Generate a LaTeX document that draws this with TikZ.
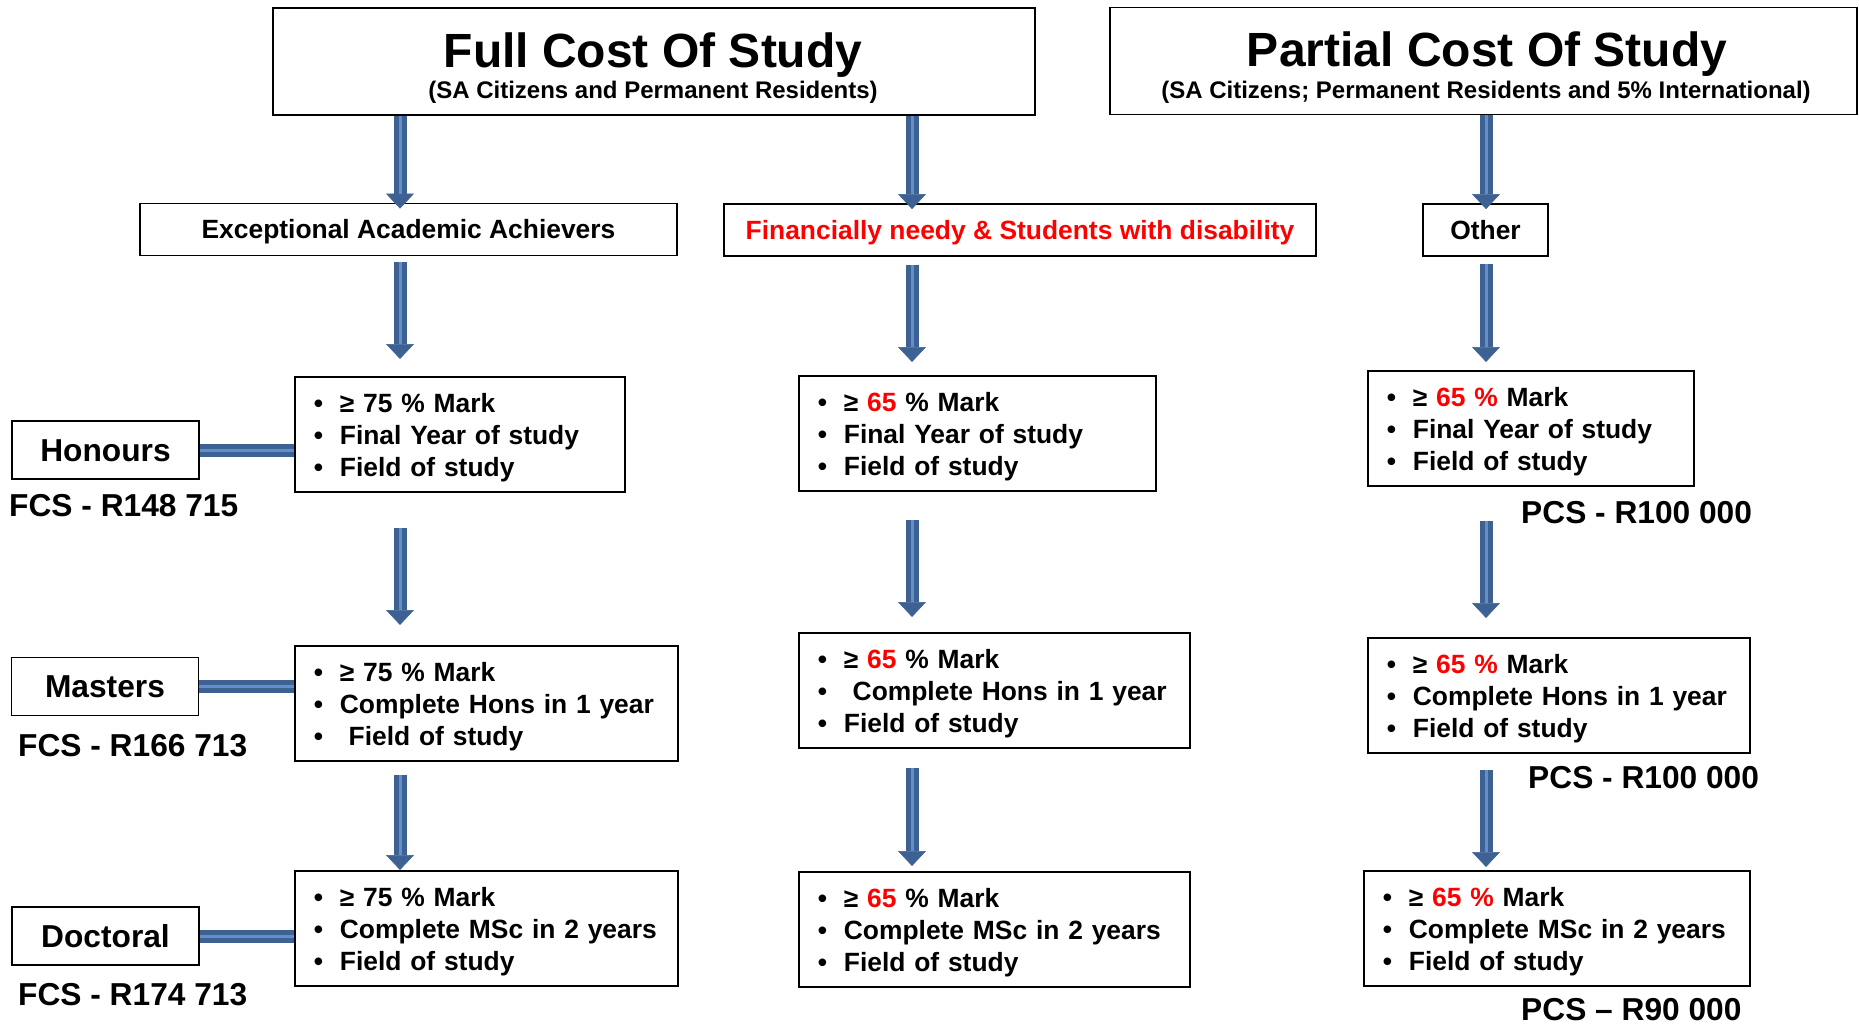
\documentclass[tikz,border=0pt]{standalone}
\usepackage{fontspec}
\setmainfont{Liberation Sans}
\usetikzlibrary{calc, arrows.meta}
\definecolor{arrowblue}{RGB}{62,97,148}
\definecolor{stripeblue}{RGB}{98,142,204}
\newcommand{\itm}{\rule{0pt}{26pt}\makebox[26pt][l]{\textbullet}}
\newcommand{\hi}[1]{\textcolor{red}{#1}}

\begin{document}
\begin{tikzpicture}[x=1pt, y=-1pt,
    box/.style={draw, line width=1.8pt, inner sep=0pt},
    head/.style={box, minimum height=107pt},
    mid/.style={box, minimum height=52pt, text height=19pt, text depth=0pt, font=\bfseries\fontsize{26.4}{30}\selectfont},
    crit/.style={box, anchor=north west, minimum height=115pt, inner xsep=19pt, align=left, text width=#1, font=\bfseries\fontsize{26.4}{32}\selectfont},
    lvl/.style={box, minimum width=187pt, minimum height=58pt, text height=22.5pt, text depth=0pt, font=\bfseries\fontsize{31.7}{36}\selectfont},
    cost/.style={anchor=west, inner sep=0pt, font=\bfseries\fontsize{31.7}{36}\selectfont},
    arr/.style={line width=13pt, draw=arrowblue, -{Triangle[width=28pt, length=15pt, line width=0.5pt]}, shorten >=#1,
        postaction={draw=stripeblue, line width=3pt, arrows=-, shorten >=#1+15pt}},
    arr/.default=0pt,
    bar/.style={line width=13pt, draw=arrowblue, postaction={draw=stripeblue, line width=3pt}}]
    \useasboundingbox (0,0) rectangle (1859,1024);

    \node[head, minimum width=762pt] (fcs) at (654,61.5) {};
    \node[font=\bfseries\fontsize{48}{52}\selectfont, text depth=0pt] at (653,50) {Full Cost Of Study};
    \node[font=\bfseries\fontsize{24}{28}\selectfont, text depth=0pt] at (653,90) {(SA Citizens and Permanent Residents)};
    \node[head, minimum width=747pt] (pcs) at (1483.5,61) {};
    \node[font=\bfseries\fontsize{48}{52}\selectfont, text depth=0pt] at (1487,49) {Partial Cost Of Study};
    \node[font=\bfseries\fontsize{24}{28}\selectfont, text depth=0pt] at (1486,90) {(SA Citizens; Permanent Residents and 5\% International)};

    \node[mid, minimum width=537pt] (exc) at (408.5,229.5) {Exceptional Academic Achievers};
    \node[mid, minimum width=592pt, text=red] (fin) at (1020,230) {Financially needy \& Students with disability};
    \node[mid, minimum width=125pt] (oth) at (1485.5,230) {Other};

    \coordinate (c1) at (400,0);
    \coordinate (c2) at (912,0);
    \coordinate (c3) at (1486,0);

    \node[crit=292pt] (c1a) at (294,376) {\itm ≥ 75 \% Mark\\ \itm Final Year of study\\ \itm Field of study};
    \node[crit=319pt] (c2a) at (798,375) {\itm ≥ \hi{65} \% Mark\\ \itm Final Year of study\\ \itm Field of study};
    \node[crit=288pt] (c3a) at (1367,370) {\itm ≥ \hi{65 \%} Mark\\ \itm Final Year of study\\ \itm Field of study};

    \node[crit=345pt] (c1b) at (294,645) {\itm ≥ 75 \% Mark\\ \itm Complete Hons in 1 year\\ \itm\ Field of study};
    \node[crit=353pt] (c2b) at (798,632) {\itm ≥ \hi{65} \% Mark\\ \itm\ Complete Hons in 1 year\\ \itm Field of study};
    \node[crit=344pt] (c3b) at (1367,637) {\itm ≥ \hi{65 \%} Mark\\ \itm Complete Hons in 1 year\\ \itm Field of study};

    \node[crit=345pt] (c1c) at (294,870) {\itm ≥ 75 \% Mark\\ \itm Complete MSc in 2 years\\ \itm Field of study};
    \node[crit=353pt] (c2c) at (798,871) {\itm ≥ \hi{65} \% Mark\\ \itm Complete MSc in 2 years\\ \itm Field of study};
    \node[crit=348pt] (c3c) at (1363,870) {\itm ≥ \hi{65 \%} Mark\\ \itm Complete MSc in 2 years\\ \itm Field of study};

    \node[lvl] (hon) at (105.5,450) {Honours};
    \node[lvl] (mas) at (105,686.5) {Masters};
    \node[lvl] (doc) at (105.5,936) {Doctoral};

    \node[cost] (fcs1) at (9,506) {FCS - R148 715};
    \node[cost] (fcs2) at (18,746) {FCS - R166 713};
    \node[cost] (fcs3) at (18,995) {FCS - R174 713};
    \node[cost] (pcs1) at (1521,513) {PCS - R100 000};
    \node[cost] (pcs2) at (1528,778) {PCS - R100 000};
    \node[cost] (pcs3) at (1521,1010) {PCS – R90 000};

    \draw[arr=-6pt] (fcs.south -| c1) -- (exc.north -| c1);
    \draw[arr=-6pt] (fcs.south -| c2) -- (fin.north -| c2);
    \draw[arr=-6pt] (pcs.south -| c3) -- (oth.north -| c3);

    \draw[arr=17pt, shorten <=6pt] (exc.south -| c1) -- (c1a.north -| c1);
    \draw[arr=13pt, shorten <=8pt] (fin.south -| c2) -- (c2a.north -| c2);
    \draw[arr=8pt, shorten <=7pt] (oth.south -| c3) -- (c3a.north -| c3);

    \draw[arr=20pt, shorten <=35pt] (c1a.south -| c1) -- (c1b.north -| c1);
    \draw[arr=15pt, shorten <=28pt] (c2a.south -| c2) -- (c2b.north -| c2);
    \draw[arr=19pt, shorten <=34pt] (c3a.south -| c3) -- (c3b.north -| c3);

    \draw[arr=0pt, shorten <=13pt] (c1b.south -| c1) -- (c1c.north -| c1);
    \draw[arr=5pt, shorten <=19pt] (c2b.south -| c2) -- (c2c.north -| c2);
    \draw[arr=3pt, shorten <=16pt] (c3b.south -| c3) -- (c3c.north -| c3);

    \draw[bar] (hon.east) -- (hon.east -| c1a.west);
    \draw[bar] (mas.east) -- (mas.east -| c1b.west);
    \draw[bar] (doc.east) -- (doc.east -| c1c.west);
\end{tikzpicture}
\end{document}
